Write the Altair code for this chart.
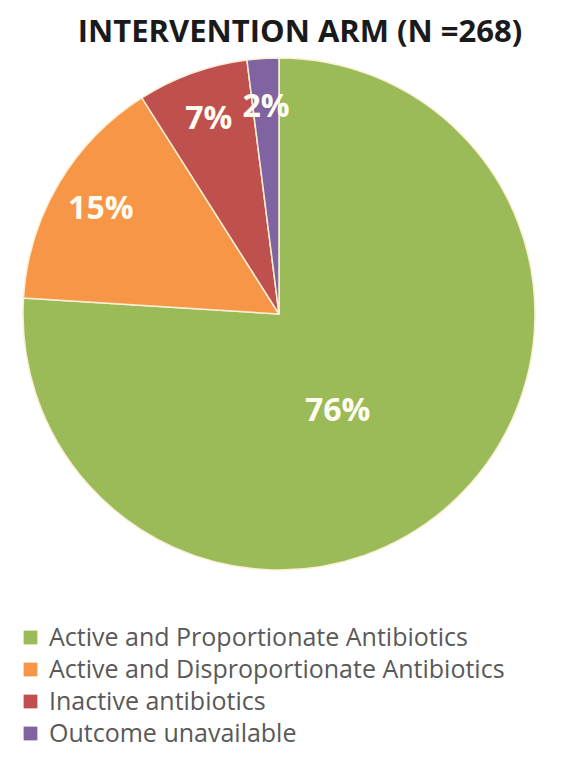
import math
import altair as alt
import pandas as pd

categories = [
    "Active and Proportionate Antibiotics",
    "Active and Disproportionate Antibiotics",
    "Inactive antibiotics",
    "Outcome unavailable",
]
values = [76, 15, 7, 2]
labels = ["76%", "15%", "7%", "2%"]
colors = ["#9BBB59", "#F79646", "#C0504D", "#8064A2"]
title_text = "INTERVENTION ARM (N =268)"

df = pd.DataFrame({
    "category": categories,
    "value": values,
    "label": labels,
    "order": list(range(len(categories))),
})

CX, CY, R = 271, 298, 256
theta_scale = alt.Scale(domain=[0, 100], range=[0, 2 * math.pi])

pie = alt.Chart(df).mark_arc(stroke="#FBEFD5", strokeWidth=1.5, outerRadius=R).encode(
    theta=alt.Theta("value:Q", stack=True, scale=theta_scale),
    order=alt.Order("order:Q"),
    x=alt.value(CX),
    y=alt.value(CY),
    color=alt.Color(
        "category:N",
        scale=alt.Scale(domain=categories, range=colors),
        sort=categories,
        legend=alt.Legend(
            title=None,
            orient="none",
            legendX=10,
            legendY=609,
            symbolType="square",
            symbolSize=190,
            symbolStrokeWidth=0,
            labelFontSize=25,
            labelFont="Open Sans",
            labelColor="#595959",
            labelLimit=600,
            labelOffset=6,
            rowPadding=6,
            padding=0,
        ),
    ),
)

text_base = alt.Chart(df).transform_window(
    cum="sum(value)", sort=[alt.SortField("order")]
).transform_calculate(
    mid="datum.cum - datum.value / 2"
).encode(
    theta=alt.Theta("mid:Q", scale=theta_scale),
    x=alt.value(CX),
    y=alt.value(CY),
    text="label:N",
)

big_text = text_base.transform_filter("datum.value > 50").mark_text(
    font="Open Sans", fontSize=32, fontWeight="bold", color="#FFFDF2",
    radius=115, dx=-20, dy=13,
)
small_text = text_base.transform_filter("datum.value <= 50").mark_text(
    font="Open Sans", fontSize=32, fontWeight="bold", color="#FFFDF2", radius=207
)

title = alt.Chart(pd.DataFrame({"t": [title_text]})).mark_text(
    font="Open Sans", fontSize=31, fontWeight="bold", color="#1a1a1a",
    baseline="alphabetic", align="center",
).encode(x=alt.value(292), y=alt.value(26), text="t:N")

chart = alt.layer(pie, big_text, small_text, title).properties(
    width=558, height=748,
    autosize=alt.AutoSizeParams(type="none"),
    padding={"left": 0, "top": 8, "right": 0, "bottom": 0},
).configure_view(stroke=None)

chart.save("out.html", embed_options={"renderer": "svg", "actions": False})
